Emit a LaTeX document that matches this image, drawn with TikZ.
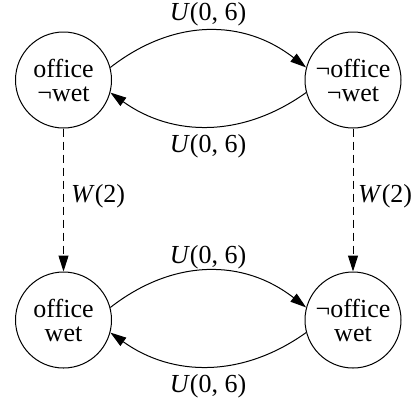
\documentclass[tikz,border=0pt]{standalone}
\usepackage{fontspec}
\setmainfont{Liberation Serif}
\usetikzlibrary{arrows.meta}
\begin{document}
\begin{tikzpicture}[x=1pt,y=-1pt,
  state/.style={draw,circle,line width=1pt,minimum size=96pt,inner sep=0pt,align=center,
    font=\fontsize{26}{24}\selectfont},
  lbl/.style={font=\fontsize{26}{24}\selectfont,inner sep=0pt},
  arr/.style={line width=1pt,-{Triangle[length=16pt,width=10pt]}},
  darr/.style={arr,dash pattern=on 8pt off 5pt}]
\useasboundingbox (0,0) rectangle (419,400);
\node[state] (A) at (63.5,80) {office\\¬wet};
\node[state] (B) at (353,80) {¬office\\¬wet};
\node[state] (C) at (63.5,320) {office\\wet};
\node[state] (D) at (353,320) {¬office\\wet};
\draw[arr] (A.15) .. controls +(63,-49) and +(-63,-49) .. (B.165);
\draw[arr] (B.195) .. controls +(-63,45) and +(63,45) .. (A.-15);
\draw[arr] (C.15) .. controls +(63,-49) and +(-63,-49) .. (D.165);
\draw[arr] (D.195) .. controls +(-63,45) and +(63,45) .. (C.-15);
\draw[darr] (A.south) -- (C.north);
\draw[darr] (B.south) -- (D.north);
\node[lbl,anchor=base] (l1) at (208,20) {\textit{U}(0, 6)};
\node[lbl,anchor=base] (l2) at (208,152) {\textit{U}(0, 6)};
\node[lbl,anchor=base] (l3) at (208,263) {\textit{U}(0, 6)};
\node[lbl,anchor=base] (l4) at (208,392) {\textit{U}(0, 6)};
\node[lbl,anchor=base west] (w1) at (71,202) {\textit{W}(2)};
\node[lbl,anchor=base west] (w2) at (358,202) {\textit{W}(2)};
\end{tikzpicture}
\end{document}
